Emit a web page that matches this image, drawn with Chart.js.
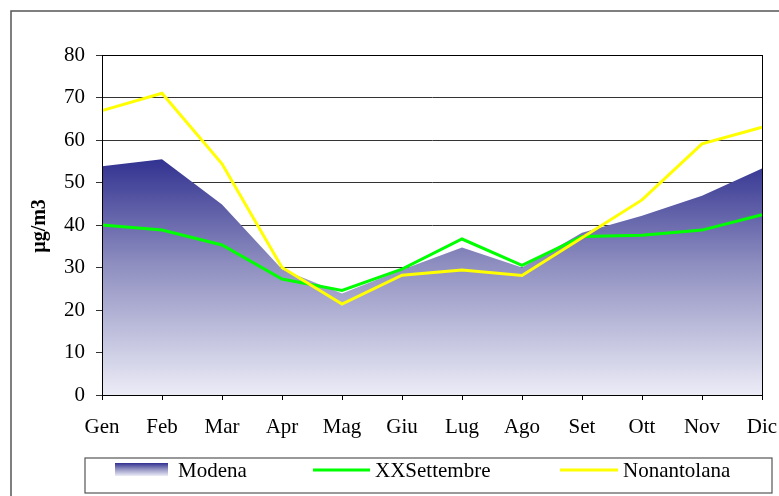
<!DOCTYPE html>
<html>
<head>
<meta charset="utf-8">
<script src="https://cdn.jsdelivr.net/npm/chart.js@4.4.1/dist/chart.umd.min.js"></script>
<style>
  html, body { margin: 0; padding: 0; background: #fff; }
  #wrap { width: 779px; height: 496px; position: relative; }
</style>
</head>
<body>
<div id="wrap"><canvas id="myChart" width="779" height="496"></canvas></div>
<script>
const months = ['Gen', 'Feb', 'Mar', 'Apr', 'Mag', 'Giu', 'Lug', 'Ago', 'Set', 'Ott', 'Nov', 'Dic'];
const modena = [53.8, 55.5, 44.8, 29.6, 23.9, 29.5, 34.7, 30.0, 38.2, 42.2, 46.9, 53.3];
const xxSettembre = [40.0, 38.8, 35.3, 27.3, 24.6, 29.6, 36.7, 30.5, 37.3, 37.6, 38.8, 42.4];
const nonantolana = [66.9, 71.0, 54.4, 30.0, 21.4, 28.2, 29.4, 28.1, 37.0, 45.9, 59.1, 63.0];
const yTicks = [0, 10, 20, 30, 40, 50, 60, 70, 80];
const seriesNames = ['Modena', 'XXSettembre', 'Nonantolana'];

const serif = "'Liberation Serif', 'Times New Roman', serif";

function modenaGradient(ctx, top, bottom) {
    const g = ctx.createLinearGradient(0, top, 0, bottom);
    g.addColorStop(0, '#303090');
    g.addColorStop(0.45, '#8e8ec0');
    g.addColorStop(1, '#ececf7');
    return g;
}

const decorations = {
    id: 'decorations',
    afterDraw(chart) {
        const ctx = chart.ctx;
        const a = chart.chartArea;
        ctx.save();

        // plot frame
        ctx.strokeStyle = '#000';
        ctx.lineWidth = 1;
        ctx.strokeRect(a.left + 0.5, a.top + 0.5, a.right - a.left, a.bottom - a.top);

        // outer border
        ctx.strokeStyle = '#555';
        ctx.lineWidth = 1.5;
        ctx.strokeRect(11, 11, 800, 520);

        // y title
        ctx.save();
        ctx.translate(40, 226);
        ctx.rotate(-Math.PI / 2);
        ctx.fillStyle = '#000';
        ctx.font = 'bold 20px ' + serif;
        ctx.textAlign = 'center';
        ctx.textBaseline = 'middle';
        ctx.fillText('µg/m3', 0, 0);
        ctx.restore();

        // legend box
        ctx.strokeStyle = '#555';
        ctx.lineWidth = 1.2;
        ctx.strokeRect(85, 458, 687, 35);

        const ly = 470;
        ctx.fillStyle = modenaGradient(ctx, 463, 476);
        ctx.fillRect(115, 463, 53, 13);

        ctx.lineWidth = 3;
        ctx.strokeStyle = '#00ff00';
        ctx.beginPath(); ctx.moveTo(313, ly); ctx.lineTo(370, ly); ctx.stroke();
        ctx.strokeStyle = '#ffff00';
        ctx.beginPath(); ctx.moveTo(560, ly); ctx.lineTo(618, ly); ctx.stroke();

        ctx.fillStyle = '#000';
        ctx.font = '21px ' + serif;
        ctx.textAlign = 'left';
        ctx.textBaseline = 'middle';
        ctx.fillText(seriesNames[0], 178, ly + 1);
        ctx.fillText(seriesNames[1], 375, ly + 1);
        ctx.fillText(seriesNames[2], 623, ly + 1);

        ctx.restore();
    }
};

const ctx = document.getElementById('myChart');

new Chart(ctx, {
    type: 'line',
    data: {
        labels: months,
        datasets: [
            {
                label: seriesNames[2],
                data: nonantolana,
                borderColor: '#ffff00',
                borderWidth: 3,
                pointRadius: 0,
                fill: false,
                tension: 0,
                order: 0
            },
            {
                label: seriesNames[1],
                data: xxSettembre,
                borderColor: '#00ff00',
                borderWidth: 3,
                pointRadius: 0,
                fill: false,
                tension: 0,
                order: 1
            },
            {
                label: seriesNames[0],
                data: modena,
                borderWidth: 0,
                borderColor: 'rgba(0,0,0,0)',
                pointRadius: 0,
                fill: 'origin',
                tension: 0,
                order: 2,
                backgroundColor(c) {
                    const area = c.chart.chartArea;
                    if (!area) return '#8080b8';
                    const y = c.chart.scales.y;
                    return modenaGradient(c.chart.ctx, y.getPixelForValue(56), y.getPixelForValue(0));
                }
            }
        ]
    },
    options: {
        responsive: false,
        animation: false,
        layout: { padding: { top: 55, left: 0, right: 17, bottom: 0 } },
        plugins: {
            legend: { display: false },
            tooltip: { enabled: false }
        },
        scales: {
            x: {
                offset: false,
                afterFit(scale) {
                    scale.height = 101;
                    scale.paddingLeft = 0;
                    scale.paddingRight = 0;
                },
                grid: {
                    drawOnChartArea: false,
                    drawTicks: true,
                    tickLength: 5,
                    color: '#000'
                },
                border: { color: '#000' },
                ticks: {
                    color: '#000',
                    font: { family: serif, size: 21 },
                    padding: 15,
                    maxRotation: 0,
                    autoSkip: false
                }
            },
            y: {
                min: 0,
                max: 80,
                afterFit(scale) { scale.width = 102; },
                afterBuildTicks(scale) {
                    scale.ticks = yTicks.map(v => ({ value: v }));
                },
                grid: {
                    color: '#333',
                    lineWidth: 1,
                    drawTicks: true,
                    tickLength: 6
                },
                border: { color: '#000' },
                ticks: {
                    color: '#000',
                    font: { family: serif, size: 21 },
                    padding: 11
                }
            }
        }
    },
    plugins: [decorations]
});
</script>
</body>
</html>
